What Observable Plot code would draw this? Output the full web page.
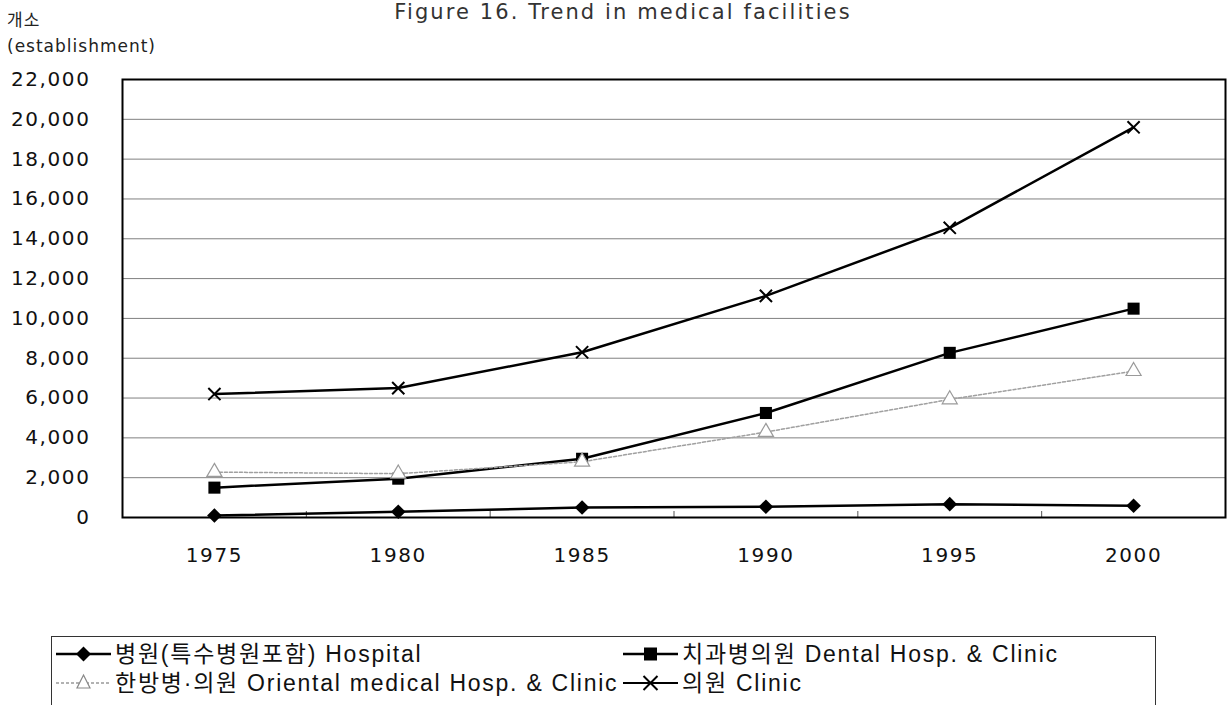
<!DOCTYPE html>
<html>
<head>
<meta charset="utf-8">
<script src="https://cdn.jsdelivr.net/npm/d3@7"></script>
<script src="https://cdn.jsdelivr.net/npm/@observablehq/plot@0.6"></script>
<style>
  html, body { margin: 0; padding: 0; background: #fff; }
  #wrap { position: relative; width: 1229px; height: 705px; overflow: hidden; background: #fff;
          font-family: "DejaVu Sans", "Noto Sans CJK KR", sans-serif; color: #111; }
  #title { position: absolute; top: 0px; left: 0; width: 1246px; text-align: center; font-size: 21px;
           letter-spacing: 2.1px; color: #333; line-height: 24px; }
  .ylab { position: absolute; left: 7px; font-size: 17px; color: #222; letter-spacing: 1px; line-height: 20px; }
  #chart { position: absolute; left: 0; top: 0; }
  #chart svg text { letter-spacing: 1.6px; }
  #legend { position: absolute; left: 51px; top: 636px; width: 1103px; height: 90px;
            border: 1px solid #333; }
  .item { position: absolute; display: flex; align-items: center; font-size: 23px; white-space: nowrap; color: #111;
          letter-spacing: 1.75px; line-height: 24px; height: 24px;
          font-family: "Liberation Sans", "Noto Sans CJK KR", sans-serif; }
  .item svg { margin-right: 4px; flex: none; }
</style>
</head>
<body>
<div id="wrap">
  <div id="title">Figure 16. Trend in medical facilities</div>
  <div class="ylab" style="top:10px">개소</div>
  <div class="ylab" style="top:36px">(establishment)</div>
  <div id="chart"></div>
  <div id="legend"></div>
</div>
<script>
// ---- data ----
const years = ["1975", "1980", "1985", "1990", "1995", "2000"];
const hospital = [100, 290, 500, 540, 670, 590];
const dental = [1500, 1950, 2950, 5250, 8270, 10490];
const oriental = [2280, 2200, 2800, 4290, 5930, 7350];
const clinic = [6200, 6500, 8300, 11130, 14550, 19600];
const yTicks = [0, 2000, 4000, 6000, 8000, 10000, 12000, 14000, 16000, 18000, 20000, 22000];
const seriesNames = {
  hospital: "병원(특수병원포함) Hospital",
  dental: "치과병의원 Dental Hosp. & Clinic",
  oriental: "한방병·의원 Oriental medical Hosp. & Clinic",
  clinic: "의원 Clinic"
};

// categories are placed at integer positions; category boundaries sit halfway between
const idx = years.map((_, i) => i);
const boundaries = idx.slice(1).map(i => i - 0.5);
const rows = (vals) => years.map((y, i) => ({year: y, pos: i, value: vals[i]}));
const H = rows(hospital), D = rows(dental), O = rows(oriental), C = rows(clinic);

const chart = Plot.plot({
  width: 1229,
  height: 580,
  marginLeft: 122,
  marginRight: 4,
  marginTop: 79,
  marginBottom: 63,
  style: {fontFamily: "DejaVu Sans, sans-serif", background: "transparent", color: "#111"},
  x: {type: "linear", domain: [-0.5, years.length - 0.5], label: null},
  y: {domain: [0, 22000], label: null},
  marks: [
    Plot.gridY(yTicks, {stroke: "#808080", strokeOpacity: 1, strokeWidth: 1}),
    Plot.axisY(yTicks, {tickSize: 0, tickPadding: 32, fontSize: 20, tickFormat: d3.format(","), label: null}),
    Plot.axisX(idx, {tickSize: 0, tickPadding: 30, fontSize: 20, tickFormat: i => years[i], label: null}),
    Plot.axisX(boundaries, {tickSize: -6, tickFormat: () => "", stroke: "#555", label: null}),
    Plot.frame({stroke: "#000", strokeWidth: 2}),
    // Hospital
    Plot.line(H, {x: "pos", y: "value", stroke: "#000", strokeWidth: 2.5}),
    Plot.dot(H, {x: "pos", y: "value", symbol: "diamond2", r: 6.6, fill: "#000", stroke: "none"}),
    // Dental
    Plot.line(D, {x: "pos", y: "value", stroke: "#000", strokeWidth: 2.5}),
    Plot.dot(D, {x: "pos", y: "value", symbol: "square", r: 6.8, fill: "#000", stroke: "none"}),
    // Oriental
    Plot.line(O, {x: "pos", y: "value", stroke: "#a0a0a0", strokeWidth: 1.5, strokeDasharray: "3,2"}),
    Plot.dot(O, {x: "pos", y: "value", symbol: "triangle", r: 5.6, fill: "#fff", stroke: "#9a9a9a", strokeWidth: 1.2}),
    // Clinic
    Plot.line(C, {x: "pos", y: "value", stroke: "#000", strokeWidth: 2.5}),
    Plot.dot(C, {x: "pos", y: "value", symbol: "times", r: 5.6, fill: "none", stroke: "#000", strokeWidth: 2})
  ]
});
document.getElementById("chart").appendChild(chart);

// ---- legend ----
const glyph = {
  hospital: '<line x1="0" y1="12" x2="55" y2="12" stroke="#000" stroke-width="2.5"/><path d="M27.5,4.5 L35,12 L27.5,19.5 L20,12Z" fill="#000"/>',
  dental: '<line x1="0" y1="12" x2="55" y2="12" stroke="#000" stroke-width="2.5"/><rect x="21" y="5.5" width="13" height="13" fill="#000"/>',
  oriental: '<line x1="0" y1="12" x2="55" y2="12" stroke="#999" stroke-width="1.5" stroke-dasharray="3,2"/><path d="M27.5,4 L34,17 L21,17Z" fill="#fff" stroke="#888" stroke-width="1.2"/>',
  clinic: '<line x1="0" y1="12" x2="55" y2="12" stroke="#000" stroke-width="2"/><path d="M20.5,5 L34.5,19 M34.5,5 L20.5,19" stroke="#000" stroke-width="2"/>'
};
const place = [
  ["hospital", 4, 5],
  ["dental", 571, 5],
  ["oriental", 4, 34],
  ["clinic", 571, 34]
];
const leg = document.getElementById("legend");
for (const [k, x, y] of place) {
  const d = document.createElement("div");
  d.className = "item";
  d.style.left = x + "px";
  d.style.top = y + "px";
  d.innerHTML = '<svg width="55" height="24">' + glyph[k] + '</svg><span>' + seriesNames[k] + '</span>';
  leg.appendChild(d);
}
</script>
</body>
</html>
